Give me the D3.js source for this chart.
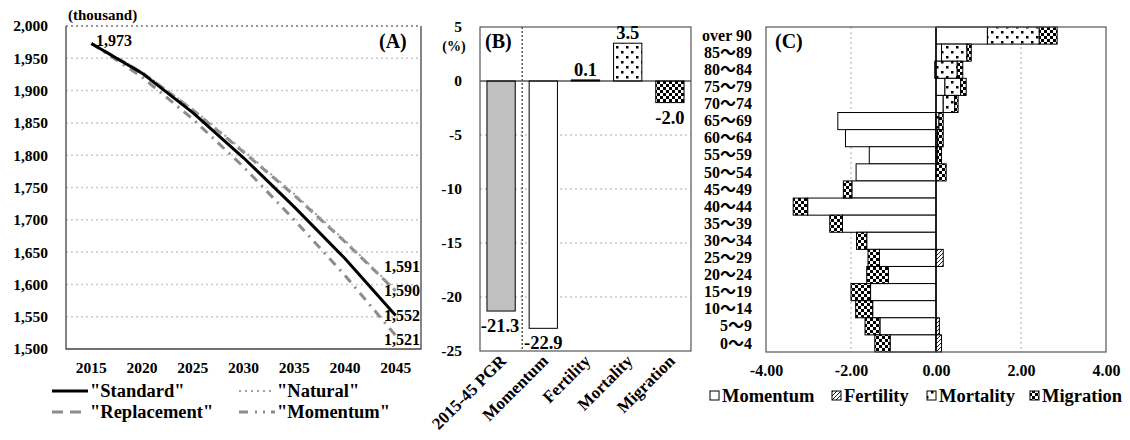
<!DOCTYPE html>
<html>
<head>
<meta charset="utf-8">
<script src="https://cdn.jsdelivr.net/npm/d3@7"></script>
<style>
body { margin: 0; background: #fff; }
svg text { font-family: "Liberation Serif", "Times New Roman", serif; font-weight: bold; fill: #000; }
</style>
</head>
<body>
<svg id="chart" width="1130" height="440"></svg>
<script>
// Panel (A): projected population, thousand
var years = ["2015", "2020", "2025", "2030", "2035", "2040", "2045"];
var standard = [1973, 1927, 1866, 1796, 1720, 1640, 1552];
var natural = [1973, 1929, 1871, 1807, 1740, 1668, 1591];
var replacement = [1973, 1928, 1870, 1805, 1738, 1666, 1590];
var momentum = [1973, 1921, 1856, 1782, 1700, 1614, 1521];
var yTicksA = [1500, 1550, 1600, 1650, 1700, 1750, 1800, 1850, 1900, 1950, 2000];

// Panel (B): decomposition of growth rate, %
var effectNames = ["2015-45 PGR", "Momentum", "Fertility", "Mortality", "Migration"];
var effectValues = [-21.3, -22.9, 0.1, 3.5, -2.0];
var yTicksB = [5, 0, -5, -10, -15, -20, -25];

// Panel (C): effects by age group, %
var ageGroups = ["over 90", "85～89", "80～84", "75～79", "70～74", "65～69", "60～64",
                 "55～59", "50～54", "45～49", "40～44", "35～39", "30～34", "25～29",
                 "20～24", "15～19", "10～14", "5～9", "0～4"];
var ageMomentum  = [1.21, 0.13, -0.03, 0.21, 0.17, -2.31, -2.13, -1.57, -1.88, -1.98, -3.02, -2.20, -1.63, -1.33, -1.12, -1.54, -1.49, -1.32, -1.08];
var ageFertility = [0, 0, 0, 0, 0, 0, 0, 0, 0, 0, 0, 0, 0, 0.17, 0, 0, 0, 0.08, 0.13];
var ageMortality = [1.22, 0.60, 0.50, 0.37, 0.27, 0.07, 0.04, 0.03, 0, 0, 0, 0, 0, 0, 0, 0, 0, 0, 0];
var ageMigration = [0.42, 0.10, 0.13, 0.13, 0.08, 0.10, 0.13, 0.10, 0.24, -0.20, -0.34, -0.30, -0.24, -0.27, -0.51, -0.46, -0.40, -0.35, -0.36];
var xTicksC = [-4, -2, 0, 2, 4];

var svg = d3.select("#chart");
var gridColor = "#c8c8c8";
var lineGray = "#8c8c8c";

// Fill patterns
var defs = svg.append("defs");
var hatch = defs.append("pattern").attr("id", "hatch").attr("patternUnits", "userSpaceOnUse")
    .attr("width", 4).attr("height", 4);
hatch.append("rect").attr("width", 4).attr("height", 4).attr("fill", "#fff");
hatch.append("path").attr("d", "M-1,1 l2,-2 M0,4 l4,-4 M3,5 l2,-2")
    .attr("stroke", "#000").attr("stroke-width", 0.9);

var dots = defs.append("pattern").attr("id", "dots").attr("patternUnits", "userSpaceOnUse")
    .attr("width", 10).attr("height", 10);
dots.append("rect").attr("width", 10).attr("height", 10).attr("fill", "#fff");
dots.append("rect").attr("x", 1).attr("y", 1).attr("width", 2.5).attr("height", 2.5).attr("fill", "#000");
dots.append("rect").attr("x", 6).attr("y", 6).attr("width", 2.5).attr("height", 2.5).attr("fill", "#000");

var checker = defs.append("pattern").attr("id", "checker").attr("patternUnits", "userSpaceOnUse")
    .attr("width", 6).attr("height", 6);
checker.append("rect").attr("width", 6).attr("height", 6).attr("fill", "#fff");
checker.append("rect").attr("width", 3).attr("height", 3).attr("fill", "#000");
checker.append("rect").attr("x", 3).attr("y", 3).attr("width", 3).attr("height", 3).attr("fill", "#000");

// ---------------- Panel (A) ----------------
var xA = d3.scaleBand().domain(years).range([66, 421]);
var yA = d3.scaleLinear().domain([1500, 2000]).range([349, 26]);

svg.append("g").selectAll("line")
   .data(yTicksA.filter(function(d) { return d > 1500; }))
   .enter().append("line")
   .attr("x1", 66).attr("x2", 421)
   .attr("y1", function(d) { return yA(d); })
   .attr("y2", function(d) { return yA(d); })
   .attr("stroke", function(d) { return d === 2000 ? "#777" : gridColor; })
   .attr("stroke-width", 1.5)
   .attr("stroke-dasharray", "2,3");

svg.append("path")
   .attr("d", "M66,26 V349 H421 V26")
   .attr("fill", "none").attr("stroke", "#444").attr("stroke-width", 1.3);

var yAxisA = svg.append("g")
   .attr("transform", "translate(66,0)")
   .call(d3.axisLeft(yA).tickValues(yTicksA).tickFormat(d3.format(",")).tickSize(0).tickPadding(18));
yAxisA.select(".domain").remove();
yAxisA.selectAll("text").style("font-size", "15.5px")
   .style("font-family", "'Liberation Serif', serif").style("font-weight", "bold");

var xAxisA = svg.append("g")
   .attr("transform", "translate(0,349)")
   .call(d3.axisBottom(xA).tickSize(0).tickPadding(13));
xAxisA.select(".domain").remove();
xAxisA.selectAll("text").style("font-size", "15.5px")
   .style("font-family", "'Liberation Serif', serif").style("font-weight", "bold");

var seriesA = [
    {name: "\"Standard\"", values: standard, color: "#000", width: 3, dash: null},
    {name: "\"Natural\"", values: natural, color: "#a0a0a0", width: 2.2, dash: "2,4"},
    {name: "\"Replacement\"", values: replacement, color: lineGray, width: 3, dash: "9,6"},
    {name: "\"Momentum\"", values: momentum, color: lineGray, width: 3, dash: "9,6,2,6"}
];

var lineA = d3.line()
    .x(function(d, i) { return xA(years[i]) + xA.bandwidth() / 2; })
    .y(function(d) { return yA(d); });

// draw grey lines first, standard on top
[3, 2, 1, 0].forEach(function(k) {
    var s = seriesA[k];
    svg.append("path")
       .datum(s.values)
       .attr("fill", "none")
       .attr("stroke", s.color)
       .attr("stroke-width", s.width)
       .attr("stroke-dasharray", s.dash)
       .attr("d", lineA);
});

svg.append("text").attr("x", 68).attr("y", 20).style("font-size", "15px").text("(thousand)");
svg.append("text").attr("x", 96).attr("y", 46).style("font-size", "16px").text(d3.format(",")(standard[0]));
svg.append("text").attr("x", 379).attr("y", 48).style("font-size", "20px").text("(A)");

// end labels
var endLabels = [
    {v: natural[6], dy: -18},
    {v: replacement[6], dy: 5},
    {v: standard[6], dy: 6},
    {v: momentum[6], dy: 10}
];
svg.append("g").selectAll("text")
   .data(endLabels).enter().append("text")
   .attr("x", 384)
   .attr("y", function(d) { return yA(d.v) + d.dy; })
   .style("font-size", "16px")
   .text(function(d) { return d3.format(",")(d.v); });

// legend (A)
var legA = [
    {s: seriesA[0], x: 52, y: 391},
    {s: seriesA[1], x: 239, y: 391},
    {s: seriesA[2], x: 52, y: 412},
    {s: seriesA[3], x: 239, y: 412}
];
legA.forEach(function(l) {
    svg.append("line")
       .attr("x1", l.x).attr("x2", l.x + 36)
       .attr("y1", l.y).attr("y2", l.y)
       .attr("stroke", l.s.color).attr("stroke-width", l.s.width)
       .attr("stroke-dasharray", l.s.dash === "9,6,2,6" ? "9,7,2,6,2,6" : (l.s.dash === "9,6" ? "11,7" : l.s.dash));
    svg.append("text").attr("x", l.x + 38).attr("y", l.y + 6)
       .style("font-size", "18.5px").text(l.s.name);
});

// ---------------- Panel (B) ----------------
var xB = d3.scaleBand().domain(effectNames).range([480, 691]).paddingInner(0.33).paddingOuter(0.165);
var yB = d3.scaleLinear().domain([-25, 5]).range([351, 27]);
var fillsB = ["#c0c0c0", "#fff", "url(#hatch)", "url(#dots)", "url(#checker)"];

svg.append("g").selectAll("line")
   .data([-5, -10, -15, -20]).enter().append("line")
   .attr("x1", 480).attr("x2", 691)
   .attr("y1", function(d) { return yB(d); })
   .attr("y2", function(d) { return yB(d); })
   .attr("stroke", gridColor).attr("stroke-width", 1.5).attr("stroke-dasharray", "2,3");

svg.append("g").selectAll("rect")
   .data(effectValues).enter().append("rect")
   .attr("x", function(d, i) { return xB(effectNames[i]); })
   .attr("width", xB.bandwidth())
   .attr("y", function(d) { return yB(Math.max(0, d)); })
   .attr("height", function(d) { return Math.abs(yB(d) - yB(0)); })
   .attr("fill", function(d, i) { return fillsB[i]; })
   .attr("stroke", "#000").attr("stroke-width", 1);

svg.append("line")
   .attr("x1", 480).attr("x2", 691).attr("y1", yB(0)).attr("y2", yB(0))
   .attr("stroke", "#000").attr("stroke-width", 1.2);

// separator after the total
svg.append("line")
   .attr("x1", xB(effectNames[1]) - xB.step() * 0.165).attr("x2", xB(effectNames[1]) - xB.step() * 0.165)
   .attr("y1", 27).attr("y2", 351)
   .attr("stroke", "#555").attr("stroke-width", 1.5).attr("stroke-dasharray", "2,2");

svg.append("rect").attr("x", 480).attr("y", 27).attr("width", 211).attr("height", 324)
   .attr("fill", "none").attr("stroke", "#555").attr("stroke-width", 1.2);

svg.append("g").selectAll("text")
   .data(effectValues).enter().append("text")
   .attr("x", function(d, i) { return xB(effectNames[i]) + xB.bandwidth() / 2 + (i === 0 ? -1 : 0); })
   .attr("y", function(d) { return d < 0 ? yB(d) + 21 : yB(d) - 4; })
   .attr("text-anchor", "middle")
   .style("font-size", "18.5px")
   .text(function(d) { return d.toFixed(1); });

var yAxisB = svg.append("g")
   .attr("transform", "translate(480,0)")
   .call(d3.axisLeft(yB).tickValues(yTicksB).tickFormat(function(d) { return String(d); }).tickSize(0).tickPadding(18));
yAxisB.select(".domain").remove();
yAxisB.selectAll("text").style("font-size", "15.5px")
   .style("font-family", "'Liberation Serif', serif").style("font-weight", "bold");

svg.append("text").attr("x", 454).attr("y", 51).attr("text-anchor", "middle")
   .style("font-size", "14px").text("(%)");
svg.append("text").attr("x", 485).attr("y", 48).style("font-size", "20px").text("(B)");

svg.append("g").selectAll("text")
   .data(effectNames).enter().append("text")
   .attr("transform", function(d) {
       return "translate(" + (xB(d) + xB.bandwidth() / 2 + 6) + ",362) rotate(-45)";
   })
   .attr("text-anchor", "end")
   .style("font-size", "17px")
   .text(function(d) { return d; });

// ---------------- Panel (C) ----------------
var xC = d3.scaleLinear().domain([-4, 4]).range([766, 1106]);
var yC = d3.scaleBand().domain(ageGroups).range([27, 352]);
var keysC = ["Momentum", "Fertility", "Mortality", "Migration"];
var fillsC = {Momentum: "#fff", Fertility: "url(#hatch)", Mortality: "url(#dots)", Migration: "url(#checker)"};

var rowsC = ageGroups.map(function(g, i) {
    return {age: g, Momentum: ageMomentum[i], Fertility: ageFertility[i],
            Mortality: ageMortality[i], Migration: ageMigration[i]};
});
var stackC = d3.stack().keys(keysC).offset(d3.stackOffsetDiverging)(rowsC);

svg.append("g").selectAll("line")
   .data([-2, 2]).enter().append("line")
   .attr("x1", function(d) { return xC(d); }).attr("x2", function(d) { return xC(d); })
   .attr("y1", 27).attr("y2", 352)
   .attr("stroke", gridColor).attr("stroke-width", 1.5).attr("stroke-dasharray", "2,3");

svg.append("g").selectAll("g")
   .data(stackC).enter().append("g")
   .attr("fill", function(d) { return fillsC[d.key]; })
   .selectAll("rect")
   .data(function(d) { return d.filter(function(p) { return p[1] !== p[0]; }); })
   .enter().append("rect")
   .attr("x", function(p) { return xC(Math.min(p[0], p[1])); })
   .attr("width", function(p) { return Math.abs(xC(p[1]) - xC(p[0])); })
   .attr("y", function(p) { return yC(p.data.age); })
   .attr("height", yC.bandwidth())
   .attr("stroke", "#000").attr("stroke-width", 1);

svg.append("line")
   .attr("x1", xC(0)).attr("x2", xC(0)).attr("y1", 27).attr("y2", 352)
   .attr("stroke", "#000").attr("stroke-width", 1.5);

svg.append("rect").attr("x", 766).attr("y", 27).attr("width", 340).attr("height", 325)
   .attr("fill", "none").attr("stroke", "#555").attr("stroke-width", 1.2);

var yAxisC = svg.append("g")
   .attr("transform", "translate(766,0)")
   .call(d3.axisLeft(yC).tickSize(0).tickPadding(14));
yAxisC.select(".domain").remove();
yAxisC.selectAll("text").style("font-size", "16px")
   .style("font-family", "'Liberation Serif', 'Noto Sans CJK JP', serif").style("font-weight", "bold");

var xAxisC = svg.append("g")
   .attr("transform", "translate(0,352)")
   .call(d3.axisBottom(xC).tickValues(xTicksC).tickFormat(function(d) { return d.toFixed(2); })
         .tickSize(0).tickPadding(13));
xAxisC.select(".domain").remove();
xAxisC.selectAll("text").style("font-size", "16px")
   .style("font-family", "'Liberation Serif', serif").style("font-weight", "bold");

svg.append("text").attr("x", 775).attr("y", 48).style("font-size", "20px").text("(C)");

// legend (C)
var legC = [
    {key: "Momentum", x: 710},
    {key: "Fertility", x: 832},
    {key: "Mortality", x: 927},
    {key: "Migration", x: 1030}
];
legC.forEach(function(l) {
    svg.append("rect").attr("x", l.x).attr("y", 391).attr("width", 9).attr("height", 9)
       .attr("fill", fillsC[l.key]).attr("stroke", "#000").attr("stroke-width", 1);
    svg.append("text").attr("x", l.x + 12).attr("y", 402)
       .style("font-size", "18.5px").text(l.key);
});
</script>
</body>
</html>
